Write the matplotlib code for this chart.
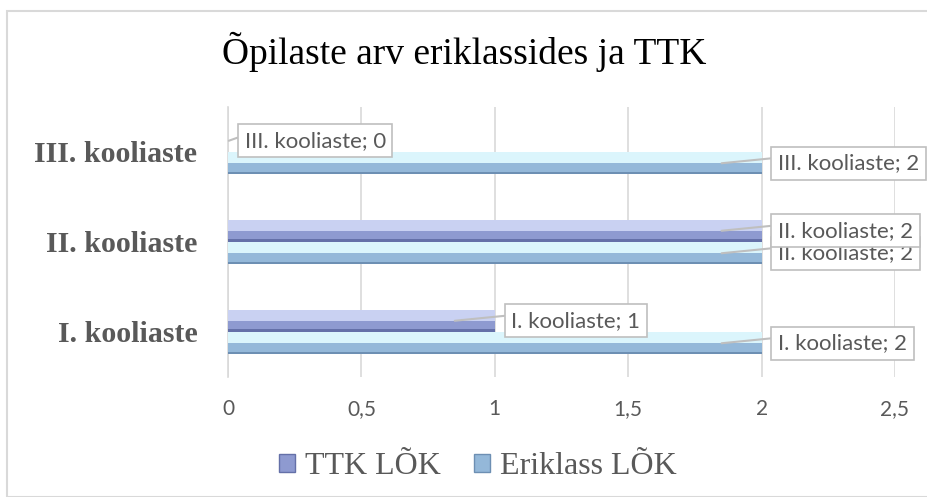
import matplotlib
matplotlib.use("Agg")
from matplotlib import pyplot as plt
from matplotlib.patches import Rectangle
import numpy as np

categories = ["I. kooliaste", "II. kooliaste", "III. kooliaste"]
series_names = ["TTK LÕK", "Eriklass LÕK"]
ttk_values = [1, 2, 0]
eriklass_values = [2, 2, 2]
x_ticks = [0, 0.5, 1, 1.5, 2, 2.5]
x_tick_labels = ["0", "0,5", "1", "1,5", "2", "2,5"]
title = "Õpilaste arv eriklassides ja TTK"

grey = "#595959"
# (main, light top, dark bottom edge)
colors = {
    "TTK LÕK": ("#8e9ad0", "#c9d1f2", "#6470a8"),
    "Eriklass LÕK": ("#94b8d9", "#dbf5fc", "#6d8fb3"),
}

fig = plt.figure(figsize=(9.28, 4.97), dpi=100)
fig.patches.append(Rectangle((7 / 928, 0), 1, 1 - 11 / 497, transform=fig.transFigure,
                             fill=False, edgecolor="#d9d9d9", linewidth=1.5))

ax = fig.add_axes([228 / 928, 1 - 377 / 497, (895 - 228) / 928, 270 / 497])

y = np.arange(len(categories))
h = 0.245
offsets = {"TTK LÕK": 0.125, "Eriklass LÕK": -0.125}
label_z = {"TTK LÕK": 7, "Eriklass LÕK": 5}

for name, vals in [("TTK LÕK", ttk_values), ("Eriklass LÕK", eriklass_values)]:
    main, light, dark = colors[name]
    yy = y + offsets[name]
    ax.barh(yy, vals, height=h, color=main, zorder=3)
    ax.barh(yy + h * 0.25, vals, height=h * 0.5, color=light, zorder=3)
    ax.barh(yy - h * 0.44, vals, height=h * 0.12, color=dark, zorder=3)
    for v, yc, cat in zip(vals, yy, categories):
        px = v - 0.15 if v > 0 else v + 0.003
        ax.annotate(f"{cat}; {v}", xy=(px, yc), xytext=(v + 0.062, yc),
                    textcoords="data", xycoords="data",
                    fontsize=16, family="Lato", color=grey, va="center", ha="left",
                    bbox=dict(boxstyle="square,pad=0.3", fc="white", ec="#bfbfbf", lw=1.2),
                    arrowprops=dict(arrowstyle="-", color="#bfbfbf", lw=1.5,
                                    shrinkA=0, shrinkB=0, relpos=(0, 0.78)),
                    zorder=label_z[name], annotation_clip=False)

ax.set_xlim(0, 2.5)
ax.set_ylim(-0.5, 2.5)
ax.set_xticks(x_ticks)
ax.set_xticklabels(x_tick_labels, family="Lato", fontsize=15, color=grey)
ax.set_yticks(y)
ax.set_yticklabels(categories, family="Liberation Serif", fontsize=21.5,
                   fontweight="bold", color=grey)
ax.tick_params(axis="x", length=0, pad=16)
ax.tick_params(axis="y", length=0, pad=22)
ax.grid(axis="x", color="#d9d9d9", linewidth=1.2, zorder=0)
for s in ["top", "right", "bottom"]:
    ax.spines[s].set_visible(False)
ax.spines["left"].set_color("#d9d9d9")
ax.spines["left"].set_linewidth(1.2)

fig.text(0.5, 1 - 52 / 497, title, ha="center", va="center",
         family="Liberation Serif", fontsize=27, color="black")

handles = [Rectangle((0, 0), 1, 1, fc=colors[n][0], ec=colors[n][2]) for n in series_names]
leg = fig.legend(handles, series_names, loc="center", bbox_to_anchor=(478 / 928, 1 - 467 / 497),
                 ncol=2, frameon=False, prop={"family": "Liberation Serif", "size": 23},
                 handlelength=0.5, handleheight=0.5, handletextpad=0.3, columnspacing=1.05)
for t in leg.get_texts():
    t.set_color(grey)

fig.savefig("out.png", dpi=100)
